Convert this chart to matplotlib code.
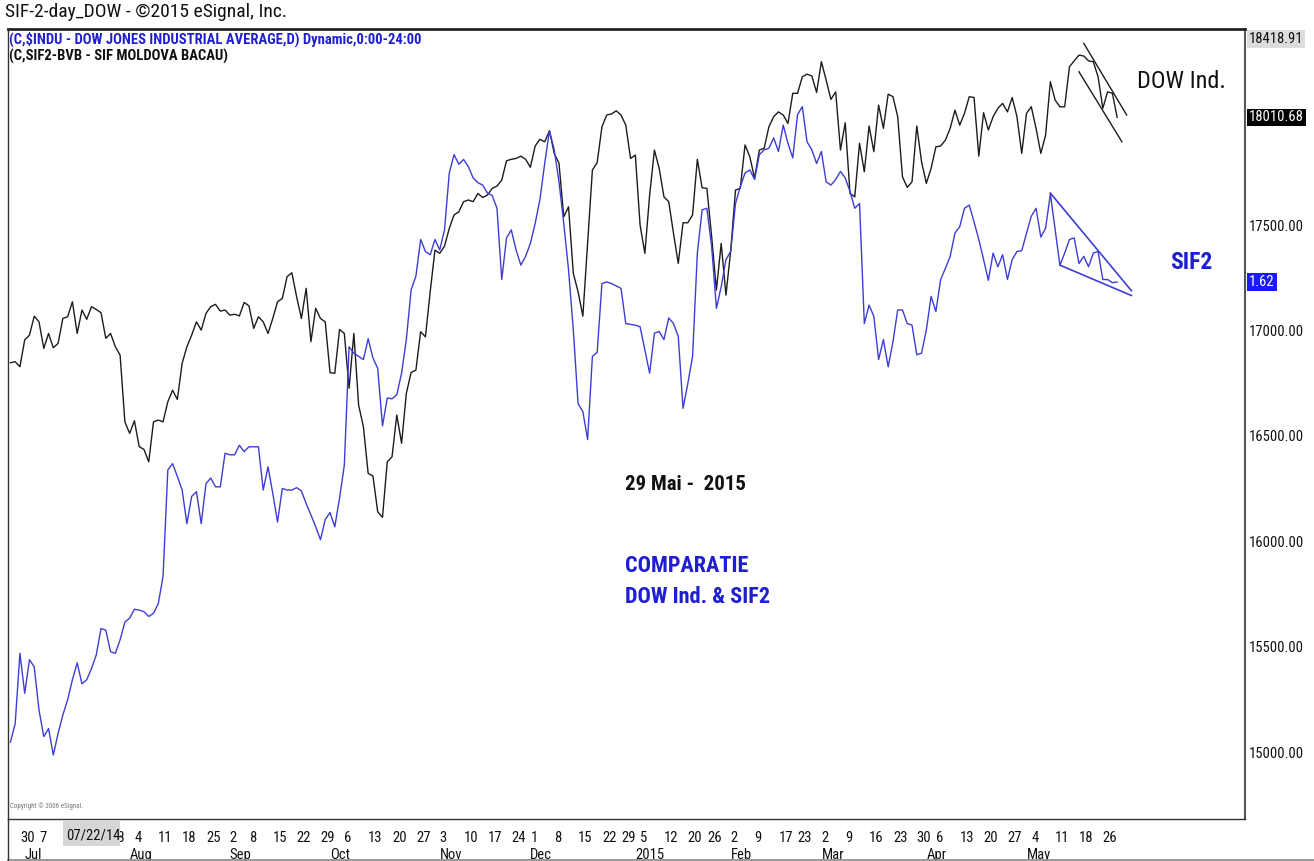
import numpy as np
import pandas as pd
import matplotlib
matplotlib.use('Agg')
import matplotlib.pyplot as plt
from matplotlib import font_manager as fm
from matplotlib.patches import Rectangle
from matplotlib.lines import Line2D


def pick_font(*names):
    for n in names:
        try:
            fm.findfont(fm.FontProperties(family=n), fallback_to_default=False)
            return n
        except ValueError:
            pass
    return 'DejaVu Sans'


NARROW = pick_font('Liberation Sans Narrow', 'Arial Narrow', 'Roboto Condensed', 'Liberation Sans')
plt.rcParams['font.family'] = [NARROW, 'DejaVu Sans']

# NYSE sessions used as the x axis
holidays = ['2014-07-04', '2014-09-01', '2014-11-27', '2014-12-25', '2015-01-01',
            '2015-01-19', '2015-02-16', '2015-04-03', '2015-05-25']
sessions = pd.bdate_range('2014-06-26', '2015-06-19', freq='C', holidays=holidays)

# daily closes, 26 Jun 2014 .. 29 May 2015
dow_close = [
    16847, 16852, 16828,
    16955, 16978, 17068, 17041, 16915, 16986, 16918, 16939, 17057, 17065, 17136,
    16986, 17097, 17053, 17113, 17100, 17084, 16963, 16986, 16923, 16883, 16567,
    16512, 16572, 16449, 16436, 16377, 16567, 16575, 16567, 16662, 16717, 16673,
    16844, 16923, 16978, 17041, 17002, 17081, 17113, 17124, 17092, 17097,
    17073, 17077, 17069, 17133, 17117, 17010, 17065, 17041, 16986, 17057, 17136,
    17152, 17255, 17274, 17160, 17057, 17200, 16947, 17105, 17057, 17041,
    16800, 16797, 17005, 16986, 16726, 16986, 16646, 16543, 16322, 16310, 16140,
    16114, 16377, 16401, 16599, 16465, 16702, 16801, 16812, 16994, 16970, 17184, 17381,
    17366, 17400, 17484, 17548, 17563, 17611, 17619, 17611, 17650, 17631, 17642,
    17674, 17685, 17713, 17805, 17812, 17816, 17827, 17812,
    17774, 17875, 17907, 17895, 17947, 17840, 17793, 17539, 17587, 17271, 17184,
    17068, 17413, 17761, 17796, 17966, 18022, 18027, 18042, 18022, 17974, 17816,
    17832, 17500, 17366, 17642, 17856, 17769, 17634, 17611, 17461, 17318, 17511,
    17511, 17548, 17812, 17677, 17674, 17445, 17192, 17413, 17168,
    17381, 17666, 17674, 17880, 17824, 17722, 17856, 17864, 17966, 18014, 18037,
    18022, 17982, 18125, 18125, 18203, 18216, 18207, 18129,
    18275, 18188, 18096, 18132, 17856, 17985, 17650, 17634, 17888, 17753, 17970,
    17848, 18069, 17959, 18121, 18109, 18014, 17729, 17679, 17705, 17970, 17800,
    17698, 17769, 17871, 17875, 17903, 17959, 18045, 17974, 18030, 18109, 18105,
    17827, 18033, 17951, 18014, 18054, 18077, 18037, 18105, 18014, 17840,
    18030, 18061, 17959, 17840, 17927, 18180, 18093, 18061, 18061, 18251, 18279,
    18306, 18302, 18279, 18275, 18203, 18054, 18132, 18125, 18010.68,
]

sif2_close = [
    1.045, 1.068, 1.156,
    1.106, 1.148, 1.139, 1.085, 1.052, 1.062, 1.029, 1.056, 1.079, 1.098, 1.123,
    1.144, 1.118, 1.123, 1.137, 1.154, 1.187, 1.185, 1.158, 1.156, 1.173, 1.195,
    1.200, 1.211, 1.210, 1.208, 1.202, 1.206, 1.218, 1.252, 1.385, 1.393, 1.377,
    1.360, 1.318, 1.352, 1.358, 1.318, 1.368, 1.375, 1.364, 1.364, 1.406,
    1.404, 1.404, 1.416, 1.408, 1.414, 1.414, 1.414, 1.360, 1.389, 1.356, 1.320,
    1.362, 1.360, 1.360, 1.363, 1.359, 1.343, 1.329, 1.314, 1.298, 1.323,
    1.332, 1.314, 1.350, 1.391, 1.539, 1.531, 1.527, 1.523, 1.549, 1.525, 1.512,
    1.440, 1.475, 1.474, 1.479, 1.506, 1.548, 1.610, 1.627, 1.673, 1.658, 1.654, 1.673,
    1.660, 1.685, 1.756, 1.779, 1.767, 1.773, 1.764, 1.750, 1.744, 1.741, 1.731,
    1.728, 1.712, 1.623, 1.675, 1.685, 1.660, 1.641, 1.652,
    1.668, 1.693, 1.723, 1.768, 1.809, 1.785, 1.745, 1.693, 1.635, 1.560, 1.468,
    1.458, 1.423, 1.527, 1.532, 1.618, 1.620, 1.618, 1.615, 1.612, 1.568, 1.567,
    1.566, 1.564, 1.535, 1.506, 1.556, 1.558, 1.548, 1.575, 1.568, 1.552, 1.462,
    1.493, 1.527, 1.656, 1.710, 1.712, 1.664, 1.587, 1.614, 1.648,
    1.658, 1.718, 1.739, 1.756, 1.760, 1.748, 1.779, 1.785, 1.787, 1.800, 1.783,
    1.816, 1.793, 1.775, 1.829, 1.839, 1.795, 1.785, 1.768,
    1.783, 1.745, 1.741, 1.748, 1.758, 1.750, 1.733, 1.712, 1.718, 1.568, 1.591,
    1.577, 1.523, 1.548, 1.514, 1.545, 1.585, 1.585, 1.568, 1.566, 1.529, 1.531,
    1.560, 1.602, 1.583, 1.623, 1.637, 1.652, 1.681, 1.689, 1.712, 1.716, 1.695,
    1.673, 1.648, 1.622, 1.656, 1.639, 1.654, 1.623, 1.648, 1.658, 1.659,
    1.681, 1.702, 1.712, 1.676, 1.687, 1.730, 1.685, 1.641, 1.656, 1.673, 1.675,
    1.643, 1.652, 1.639, 1.656, 1.658, 1.623, 1.623, 1.619, 1.620,
]

# hand-drawn trend lines
dow_channel_dates = [['2015-05-19', '2015-06-02'], ['2015-05-18', '2015-06-01']]
dow_channel_vals = [[18362, 18022], [18227, 17895]]
sif2_wedge_dates = [['2015-05-08', '2015-06-03'], ['2015-05-12', '2015-06-03']]
sif2_wedge_vals = [[1.731, 1.609], [1.641, 1.603]]

# weekly labels (14 and 21 Jul sit under the cursor box, so only 28 Jul peeks out)
day_ticks = ['2014-06-30', '2014-07-07', '2014-07-28',
             '2014-08-04', '2014-08-11', '2014-08-18', '2014-08-25', '2014-09-02',
             '2014-09-08', '2014-09-15', '2014-09-22', '2014-09-29', '2014-10-06',
             '2014-10-13', '2014-10-20', '2014-10-27', '2014-11-03', '2014-11-10',
             '2014-11-17', '2014-11-24', '2014-12-01', '2014-12-08', '2014-12-15',
             '2014-12-22', '2014-12-29', '2015-01-05', '2015-01-12', '2015-01-20',
             '2015-01-26', '2015-02-02', '2015-02-09', '2015-02-17', '2015-02-23',
             '2015-03-02', '2015-03-09', '2015-03-16', '2015-03-23', '2015-03-30',
             '2015-04-06', '2015-04-13', '2015-04-20', '2015-04-27', '2015-05-04',
             '2015-05-11', '2015-05-18', '2015-05-26']
month_ticks = ['2014-07-01', '2014-08-01', '2014-09-02', '2014-10-01', '2014-11-03',
               '2014-12-01', '2015-01-02', '2015-02-02', '2015-03-02', '2015-04-01',
               '2015-05-01']
month_labels = ['Jul', 'Aug', 'Sep', 'Oct', 'Nov', 'Dec', '2015', 'Feb', 'Mar', 'Apr', 'May']
price_ticks = [15000, 15500, 16000, 16500, 17000, 17500]

W, H = 1314, 861
BLUE_LINE = '#3d3dd6'
BLUE_TEXT = '#1f1fd0'


def pos(dates):
    return sessions.get_indexer(pd.to_datetime(dates))


def fx(px):
    return px / W


def fy(py):
    return 1 - py / H


fig = plt.figure(figsize=(W / 100, H / 100), dpi=100)
ax = fig.add_axes([fx(8), fy(819), fx(1245 - 8), (819 - 29) / H])
ax2 = ax.twinx()

x = np.arange(len(dow_close))
ax.plot(x, dow_close, color='#1c1c1c', lw=1.0, zorder=3)
ax2.plot(x, sif2_close, color=BLUE_LINE, lw=1.0, zorder=3)

for d, v in zip(dow_channel_dates, dow_channel_vals):
    ax.plot(pos(d), v, color='#1c1c1c', lw=1.0)
for d, v in zip(sif2_wedge_dates, sif2_wedge_vals):
    ax2.plot(pos(d), v, color=BLUE_LINE, lw=1.2)

ax.set_xlim(-0.5, 258.8)
ax.set_ylim(14683, 18430)
ax2.set_ylim(0.949, 1.936)

# axes frame
for s in ['left', 'bottom']:
    ax.spines[s].set_color('#333333')
    ax.spines[s].set_linewidth(1.0)
ax.spines['top'].set_color('#222222')
ax.spines['top'].set_linewidth(2.0)
ax.spines['right'].set_color('#555555')
ax.spines['right'].set_linewidth(1.5)
for s in ax2.spines.values():
    s.set_visible(False)
ax2.set_yticks([])

# right price scale
ax.yaxis.tick_right()
ax.set_yticks(price_ticks)
ax.set_yticklabels(['%.2f' % t for t in price_ticks])
ax.tick_params(axis='y', length=0, pad=3, labelsize=10.5, labelcolor='#111111')

# two-row date scale; month labels share positions with some week labels
ax.xaxis.remove_overlapping_locs = False
ax.set_xticks(pos(day_ticks))
ax.set_xticklabels([str(pd.Timestamp(d).day) for d in day_ticks])
ax.set_xticks(pos(month_ticks), minor=True)
ax.set_xticklabels(month_labels, minor=True)
ax.tick_params(axis='x', which='major', length=0, pad=9, labelsize=10.5, labelcolor='#111111')
ax.tick_params(axis='x', which='minor', length=0, pad=21, labelsize=10.5, labelcolor='#111111')
for lab in ax.get_xticklabels() + ax.get_xticklabels(minor=True):
    lab.set_horizontalalignment('left')

# value tags on the right scale
ax.annotate('18418.91', xy=(1, 1), xycoords='axes fraction', xytext=(3, -2),
            textcoords='offset points', ha='left', va='top', fontsize=10.5,
            color='#111111', annotation_clip=False,
            bbox=dict(boxstyle='square,pad=0.12', fc='#dcdcdc', ec='none'))
ax.annotate('18010.68', xy=(1, dow_close[-1]), xycoords=('axes fraction', 'data'),
            xytext=(3, 0), textcoords='offset points', ha='left', va='center',
            fontsize=10.5, color='white', annotation_clip=False,
            bbox=dict(boxstyle='square,pad=0.12', fc='black', ec='none'))
ax2.annotate('%.2f' % sif2_close[-1], xy=(1, sif2_close[-1]),
             xycoords=('axes fraction', 'data'), xytext=(3, 0),
             textcoords='offset points', ha='left', va='center', fontsize=10.5,
             color='white', annotation_clip=False,
             bbox=dict(boxstyle='square,pad=0.15', fc='#1a1aff', ec='none'))

# header texts
fig.text(fx(5), fy(12), 'SIF-2-day_DOW - \u00a92015 eSignal, Inc.', fontsize=14,
         color='#111111', va='center', ha='left')
fig.text(fx(9), fy(39), '(C,$INDU - DOW JONES INDUSTRIAL AVERAGE,D) Dynamic,0:00-24:00',
         fontsize=10.5, fontweight='bold', color=BLUE_TEXT, va='center', ha='left')
fig.text(fx(9), fy(56), '(C,SIF2-BVB - SIF MOLDOVA BACAU)', fontsize=10.5,
         fontweight='bold', color='#111111', va='center', ha='left')
fig.text(fx(10), fy(806), 'Copyright \u00a9 2006 eSignal.', fontsize=5,
         color='#777777', va='center', ha='left')

# chart notes
fig.text(fx(1137), fy(81), 'DOW Ind.', fontsize=17.5, color='#111111', va='center', ha='left')
fig.text(fx(1170), fy(263), 'SIF2', fontsize=17, fontweight='bold', color=BLUE_TEXT,
         va='center', ha='left')
fig.text(fx(625), fy(484), '29 Mai -  2015', fontsize=15, fontweight='bold', color='#111111',
         va='center', ha='left')
fig.text(fx(625), fy(566), 'COMPARATIE', fontsize=16, fontweight='bold',
         color=BLUE_TEXT, va='center', ha='left')
fig.text(fx(625), fy(597), 'DOW Ind. & SIF2', fontsize=16, fontweight='bold',
         color=BLUE_TEXT, va='center', ha='left')

# cursor date box on the time scale
fig.patches.append(Rectangle((fx(63), fy(846)), (120 - 63) / W, (846 - 821) / H,
                             transform=fig.transFigure, fc='#d6d6d6', ec='none', zorder=5))
fig.text(fx(66), fy(835), '07/22/14', fontsize=10.5, color='#111111', va='center',
         ha='left', zorder=6)

# outer frame of the time scale
fig.add_artist(Line2D([fx(8), fx(W)], [fy(859.5), fy(859.5)], color='#888888', lw=1.2))
fig.add_artist(Line2D([fx(8), fx(8)], [fy(819), fy(860)], color='#333333', lw=1.0))

fig.savefig('out.png', dpi=100)
